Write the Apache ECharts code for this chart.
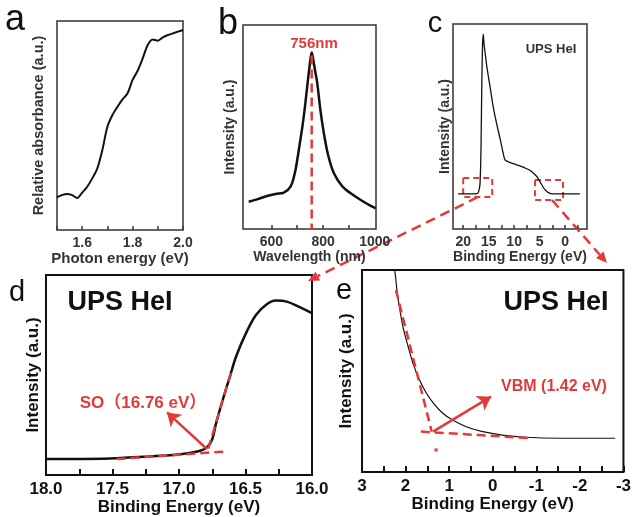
<!DOCTYPE html>
<html>
<head>
<meta charset="utf-8">
<script src="https://cdn.jsdelivr.net/npm/echarts/dist/echarts.min.js"></script>
<style>
  html, body { margin: 0; padding: 0; background: #fff; }
  #main { width: 634px; height: 517px; }
</style>
</head>
<body>
<div id="main"></div>
<script>
// a: absorbance
var aEnergy = [1.50,1.52,1.54,1.56,1.58,1.60,1.62,1.64,1.66,1.68,1.70,1.72,1.74,1.76,1.78,1.80,1.82,1.84,1.86,1.88,1.90,1.92,1.94,1.96,1.98,2.00];
var aAbs = [15.6,16.7,17.2,16.7,15.3,17.9,20.7,24.7,29.5,38.3,49.4,55.0,59.0,62.5,65.4,71.8,76.2,82.1,88.5,91.2,90.6,92.2,93.3,94.1,94.9,95.7];
// b: PL
var bWave = [512,544,583,616,648,674,690,700,710,720,730,740,750,756,762,770,777,790,803,820,842,875,907,946,985,1004];
var bInt = [13.4,14.5,16.2,17.2,17.8,20.8,27,33.8,42,50.2,60,71.4,82,86.5,83,77,72,58,47,36,27.3,20.8,17.5,14.2,11.3,10.1];
var bPeakX = [756, 756];
var bPeakY = [85, 0];
// c: UPS full
var cEnergy = [21,20,18,17.3,17.0,16.7,16.5,16.35,16.2,16.05,15.9,15.6,15.35,14.7,14.1,13.4,12.7,12.2,11.8,11.0,10.0,9.0,8.0,7.0,6.2,5.5,4.8,4.0,3.2,2.4,1.0,-2.9];
var cInt = [17.1,17.1,17.1,17.2,18,22,40,70,90,95,90,84,79,69,59.5,51,43.4,37.5,33.7,32.6,31.8,30.9,29.9,28.8,27.2,25.4,22.5,19.3,17.6,17.1,17.1,17.1];
// d: cutoff
var dEnergy = [18.0,17.52,17.22,16.99,16.84,16.79,16.75,16.72,16.67,16.62,16.57,16.49,16.42,16.34,16.27,16.19,16.10,16.0];
var dInt = [8.0,8.3,9.3,10.4,12.1,13.8,17.9,26.2,37.8,48.6,59.4,71.8,80.1,85.4,87.2,86.7,84.2,80.9];
var dBaseX = [17.47, 16.64], dBaseY = [8.0, 11.8];
var dSteepX = [16.61, 16.785], dSteepY = [51, 12];
// e: VBM
var eEnergy = [2.3,2.25,2.19,2.13,2.06,1.94,1.83,1.68,1.52,1.33,1.14,0.92,0.61,0.23,-0.22,-0.76,-1.52,-2.81];
var eInt = [104,100,88.5,80.2,71.9,62,53.8,45.5,39,33.2,29,25.7,22.4,20,18.3,17.2,16.7,16.7];
var eBaseX = [1.65, -0.9], eBaseY = [20, 16.7];
var eSteepX = [2.22, 1.40], eSteepY = [90, 20];

var RED = '#e23a3a';
var FONT = "'Liberation Sans', Arial, 'Noto Sans CJK SC', sans-serif";

function zip(xs, ys) {
  return xs.map(function (x, i) { return [x, ys[i]]; });
}

// x axis for the small top panels
function smallX(gi, name, nameSize, extra) {
  var ax = {
    gridIndex: gi, type: 'value',
    axisLine: { show: false },
    splitLine: { show: false },
    axisTick: { inside: true, length: 4, lineStyle: { color: '#333', width: 1.5 } },
    name: name, nameLocation: 'middle', nameGap: 21,
    nameTextStyle: { color: '#333', fontSize: nameSize, fontWeight: 'bold', fontFamily: FONT }
  };
  return Object.assign(ax, extra);
}
function smallLabel(extra) {
  return Object.assign({ color: '#333', fontSize: 14, fontWeight: 'bold', fontFamily: FONT, margin: 6 }, extra);
}
function bigX(gi, extra) {
  var ax = {
    gridIndex: gi, type: 'value', inverse: true,
    axisLine: { show: false },
    splitLine: { show: false },
    axisTick: { inside: true, length: 6, lineStyle: { color: '#111', width: 2 } },
    name: 'Binding Energy (eV)', nameLocation: 'middle', nameGap: 24,
    nameTextStyle: { color: '#111', fontSize: 17, fontWeight: 'bold', fontFamily: FONT }
  };
  return Object.assign(ax, extra);
}
function yAx(gi, name, gap, size, color) {
  return {
    gridIndex: gi, type: 'value', min: 0, max: 100,
    axisLine: { show: false }, axisTick: { show: false }, axisLabel: { show: false },
    splitLine: { show: false },
    name: name, nameLocation: 'middle', nameGap: gap,
    nameTextStyle: { color: color, fontSize: size, fontWeight: 'bold', fontFamily: FONT }
  };
}
function curve(xi, data, w, smooth) {
  return {
    type: 'line', xAxisIndex: xi, yAxisIndex: xi, data: data,
    showSymbol: false, smooth: smooth, silent: true,
    lineStyle: { color: '#111', width: w }
  };
}
function redDash(xi, data) {
  return {
    type: 'line', xAxisIndex: xi, yAxisIndex: xi, data: data,
    showSymbol: false, silent: true, z: 5,
    lineStyle: { color: RED, width: 2.5, type: [9, 5] }
  };
}
function arrowMark(from, to) {
  return {
    silent: true, symbol: ['none', 'arrow'], symbolSize: 13,
    label: { show: false },
    lineStyle: { color: RED, width: 2.5, type: 'solid' },
    data: [[{ coord: from }, { coord: to }]]
  };
}
// dashed arrow between panels (decoration)
function crossArrow(x1, y1, x2, y2) {
  var ang = Math.atan2(y2 - y1, x2 - x1), L = 11, W = 5;
  var bx = x2 - L * Math.cos(ang), by = y2 - L * Math.sin(ang);
  var px = -Math.sin(ang) * W, py = Math.cos(ang) * W;
  return [
    { type: 'line', silent: true, shape: { x1: x1, y1: y1, x2: bx, y2: by },
      style: { stroke: RED, lineWidth: 2.5, lineDash: [10, 6] } },
    { type: 'polygon', silent: true, shape: { points: [[x2, y2], [bx + px, by + py], [bx - px, by - py]] },
      style: { fill: RED } }
  ];
}
function txt(x, y, s, size, color, weight) {
  return { type: 'text', x: x, y: y, silent: true,
    style: { text: s, fill: color, font: (weight || 'bold') + ' ' + size + 'px ' + FONT, align: 'center', verticalAlign: 'middle' } };
}

var gridSmall = { show: true, borderColor: '#333', borderWidth: 1.5, backgroundColor: 'transparent' };
var gridBig = { show: true, borderColor: '#111', borderWidth: 2, backgroundColor: 'transparent' };

var myChart = echarts.init(document.getElementById('main'));

var dS = redDash(3, zip(dBaseX, dBaseY));
var dT = redDash(3, zip(dSteepX, dSteepY));
dT.markLine = arrowMark([16.79, 13], [17.09, 31.3]);
var eS = redDash(4, zip(eBaseX, eBaseY));
var eT = redDash(4, zip(eSteepX, eSteepY));
eT.markLine = arrowMark([1.37, 20], [0.04, 37.3]);

var cSeries = curve(2, zip(cEnergy, cInt), 1.3, 0.2);
cSeries.markArea = {
  silent: true,
  itemStyle: { color: 'rgba(0,0,0,0)', borderColor: RED, borderWidth: 2, borderType: [6, 4] },
  data: [
    [{ coord: [20, 24.9] }, { coord: [14.3, 15.6] }],
    [{ coord: [5.9, 23.9] }, { coord: [0.4, 14.1] }]
  ]
};

var option = {
  animation: false,
  backgroundColor: '#fff',
  grid: [
    Object.assign({ left: 57, top: 21, width: 126, height: 209 }, gridSmall),
    Object.assign({ left: 243, top: 25, width: 133, height: 204 }, gridSmall),
    Object.assign({ left: 453, top: 24, width: 134, height: 205 }, gridSmall),
    Object.assign({ left: 46, top: 275, width: 266, height: 201 }, gridBig),
    Object.assign({ left: 362, top: 270, width: 263, height: 202 }, gridBig)
  ],
  xAxis: [
    smallX(0, 'Photon energy (eV)', 15, {
      min: 1.5, max: 2.0, interval: 0.1,
      axisLabel: smallLabel({
        formatter: function (v) { var k = Math.round(v * 10); return (k >= 16 && k % 2 === 0) ? (k / 10).toFixed(1) : ''; } })
    }),
    smallX(1, 'Wavelength (nm)', 14, {
      min: 490, max: 1005,
      axisTick: { inside: true, length: 4, lineStyle: { color: '#333', width: 1.5 }, customValues: [600, 700, 800, 900] },
      axisLabel: smallLabel({ customValues: [600, 800, 1000], formatter: function (v) { return String(v); } })
    }),
    smallX(2, 'Binding Energy (eV)', 14, {
      min: -4.3, max: 22, inverse: true,
      axisTick: { inside: true, length: 4, lineStyle: { color: '#333', width: 1.5 }, customValues: [20, 17.5, 15, 12.5, 10, 7.5, 5, 2.5, 0, -2.5] },
      axisLabel: smallLabel({ customValues: [20, 15, 10, 5, 0], formatter: function (v) { return String(v); } })
    }),
    bigX(3, {
      min: 16, max: 18, interval: 0.25,
      axisLabel: { color: '#111', fontSize: 17, fontWeight: 'bold', fontFamily: FONT, margin: 6,
        formatter: function (v) { return Math.round(v * 4) % 2 === 0 ? v.toFixed(1) : ''; } }
    }),
    bigX(4, {
      min: -3, max: 3, interval: 0.5,
      axisLabel: { color: '#111', fontSize: 17, fontWeight: 'bold', fontFamily: FONT, margin: 6,
        formatter: function (v) { return Math.round(v * 2) % 2 === 0 ? String(Math.round(v)) : ''; } }
    })
  ],
  yAxis: [
    yAx(0, 'Relative absorbance (a.u.)', 11, 14.5, '#333'),
    yAx(1, 'Intensity (a.u.)', 6, 14, '#333'),
    yAx(2, 'Intensity (a.u.)', 1, 14, '#333'),
    yAx(3, 'Intensity (a.u.)', 4, 17, '#111'),
    yAx(4, 'Intensity (a.u.)', 7, 17, '#111')
  ],
  series: [
    curve(0, zip(aEnergy, aAbs), 2, 0.3),
    curve(1, zip(bWave, bInt), 2.5, 0.35),
    redDash(1, zip(bPeakX, bPeakY)),
    cSeries,
    curve(3, zip(dEnergy, dInt), 2.5, 0.35),
    dS, dT,
    curve(4, zip(eEnergy, eInt), 1.2, 0.35),
    eS, eT,
    {
      type: 'scatter', xAxisIndex: 4, yAxisIndex: 4, data: [[1.30, 10.9]],
      symbolSize: 4, itemStyle: { color: RED }, silent: true
    }
  ],
  graphic: [].concat(
    crossArrow(478, 197, 308, 281),
    crossArrow(552, 200, 607, 263),
    [
      txt(15, 20, 'a', 36, '#111', 'normal'),
      txt(228, 24, 'b', 36, '#111', 'normal'),
      txt(435, 24, 'c', 29, '#111', 'normal'),
      txt(17, 293, 'd', 29, '#111', 'normal'),
      txt(344, 291, 'e', 29, '#111', 'normal'),
      txt(314, 44, '756nm', 15, RED),
      txt(551, 49, 'UPS HeI', 13, '#333'),
      txt(120, 303, 'UPS HeI', 27, '#111'),
      txt(556, 303, 'UPS HeI', 27, '#111'),
      txt(143, 403, 'SO（16.76 eV）', 17, RED),
      txt(554, 387, 'VBM (1.42 eV)', 16, RED)
    ]
  )
};

myChart.setOption(option);
</script>
</body>
</html>
